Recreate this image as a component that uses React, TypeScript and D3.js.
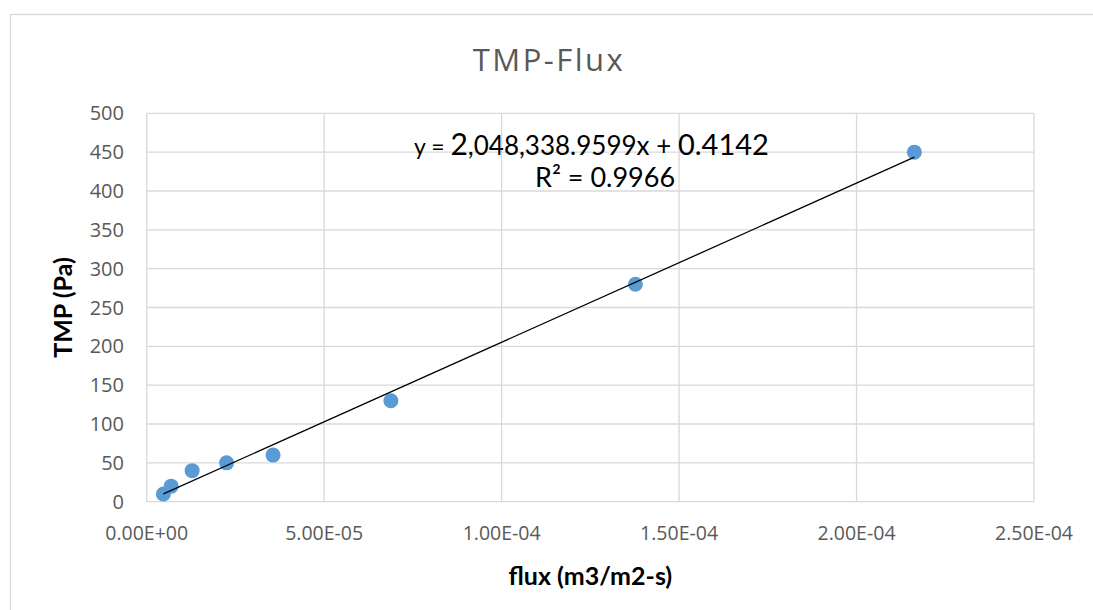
import React from "react";
import * as d3 from "d3";

const fluxValues = [4.7e-6, 6.9e-6, 1.28e-5, 2.25e-5, 3.56e-5, 6.88e-5, 1.377e-4, 2.163e-4];
const tmpValues = [10, 20, 40, 50, 60, 130, 280, 450];
const xTicks = [0, 5e-5, 1e-4, 1.5e-4, 2e-4, 2.5e-4];
const xTickLabels = ["0.00E+00", "5.00E-05", "1.00E-04", "1.50E-04", "2.00E-04", "2.50E-04"];
const yTicks = [0, 50, 100, 150, 200, 250, 300, 350, 400, 450, 500];
const trendSlope = 2048338.9599;
const trendIntercept = 0.4142;
const chartTitle = "TMP-Flux";
const xTitle = "flux (m3/m2-s)";
const yTitle = "TMP (Pa)";

const W = 1093;
const H = 610;
const plot = { left: 146.7, right: 1034, top: 113.3, bottom: 501.7 };

export default function App() {
  const x = d3.scaleLinear().domain([0, 2.5e-4]).range([plot.left, plot.right]);
  const y = d3.scaleLinear().domain([0, 500]).range([plot.bottom, plot.top]);
  const xMin = d3.min(fluxValues) as number;
  const xMax = d3.max(fluxValues) as number;
  const trend = d3
    .line<number>()
    .x((d) => x(d))
    .y((d) => y(trendSlope * d + trendIntercept))([xMin, xMax]);

  const grid = "#d9d9d9";
  const tickFont = "'Open Sans', sans-serif";
  const titleFont = "Lato, sans-serif";

  return (
    <svg
      width={W}
      height={H}
      style={{ position: "absolute", left: 0, top: 0, display: "block", background: "#fff" }}
    >
      <rect x={10.5} y={14.5} width={1100} height={620} fill="#fff" stroke={grid} strokeWidth={1.3} />
      <text
        x={549}
        y={71}
        textAnchor="middle"
        fontFamily={tickFont}
        fontSize={31}
        letterSpacing={2.5}
        fill="#595959"
      >
        {chartTitle}
      </text>
      {yTicks.map((t) => (
        <line key={"h" + t} x1={plot.left} x2={plot.right} y1={y(t)} y2={y(t)} stroke={grid} strokeWidth={1.3} />
      ))}
      {xTicks.map((t) => (
        <line key={"v" + t} x1={x(t)} x2={x(t)} y1={plot.top} y2={plot.bottom} stroke={grid} strokeWidth={1.3} />
      ))}
      {yTicks.map((t) => (
        <text
          key={"yl" + t}
          x={124}
          y={y(t)}
          dy="0.35em"
          textAnchor="end"
          fontFamily={tickFont}
          fontSize={20}
          fill="#595959"
        >
          {t}
        </text>
      ))}
      {xTicks.map((t, i) => (
        <text
          key={"xl" + t}
          x={x(t)}
          y={533}
          dy="0.35em"
          textAnchor="middle"
          fontFamily={tickFont}
          fontSize={19.5}
          fill="#595959"
        >
          {xTickLabels[i]}
        </text>
      ))}
      <text
        x={(plot.left + plot.right) / 2}
        y={576}
        dy="0.35em"
        textAnchor="middle"
        fontFamily={titleFont}
        fontWeight="bold"
        fontSize={25}
        fill="#000"
      >
        {xTitle}
      </text>
      <text
        transform={`translate(63,${(plot.top + plot.bottom) / 2}) rotate(-90)`}
        dy="0.35em"
        textAnchor="middle"
        fontFamily={titleFont}
        fontWeight="bold"
        fontSize={25}
        fill="#000"
      >
        {yTitle}
      </text>
      {fluxValues.map((f, i) => (
        <circle key={"p" + i} cx={x(f)} cy={y(tmpValues[i])} r={7.5} fill="#5b9bd5" />
      ))}
      <path d={trend || ""} fill="none" stroke="#000" strokeWidth={1.3} />
      <text x={414} y={155} fontFamily={titleFont} fill="#000">
        <tspan fontSize={23}>y = </tspan>
        <tspan fontSize={30}>2</tspan>
        <tspan fontSize={26}>,048,338.9599x + </tspan>
        <tspan fontSize={29}>0.4142</tspan>
      </text>
      <text x={535} y={187} fontFamily={titleFont} fill="#000">
        <tspan fontSize={27}>R² = 0.9966</tspan>
      </text>
    </svg>
  );
}
